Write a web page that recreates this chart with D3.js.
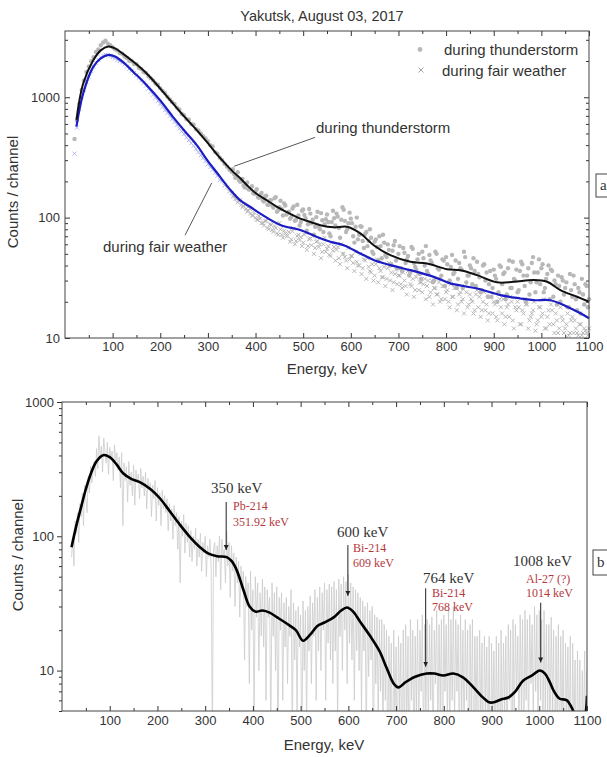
<!DOCTYPE html>
<html>
<head>
<meta charset="utf-8">
<script src="https://cdn.jsdelivr.net/npm/d3@7"></script>
<style>
  body { margin: 0; background: #fff; }
  svg { display: block; }
  text { font-family: Arial, "Liberation Sans", sans-serif; fill: #333; }
  .serif { font-family: "Times New Roman", "Liberation Serif", serif; }
</style>
</head>
<body>
<div id="chart"></div>
<script>
// Raw channels, every 5 keV from 20 to 1100 keV
var stormPoints = [
    450, 640, 880, 1150, 1380, 1620, 1800, 1990, 2150, 2380,
    2500, 2700, 2850, 2950, 2780, 2700, 2600, 2500, 2450, 2330,
    2300, 2180, 2120, 2010, 1990, 1890, 1880, 1760, 1720, 1620,
    1590, 1500, 1440, 1380, 1300, 1270, 1190, 1130, 1080, 1010,
    960, 910, 880, 820, 790, 730, 710, 660, 650, 600,
    590, 545, 530, 500, 475, 455, 430, 400, 390, 350,
    340, 315, 300, 280, 265, 250, 240, 230, 218, 205,
    200, 185, 190, 172, 176, 160, 165, 148, 155, 140,
    150, 128, 139, 126, 145, 112, 122, 118, 131, 106,
    112, 101, 124, 96, 104, 92, 117, 99, 88, 108,
    96, 84, 112, 80, 95, 88, 106, 74, 92, 99,
    108, 82, 96, 116, 76, 90, 98, 70, 84, 66,
    85, 64, 73, 58, 80, 52, 63, 57, 70, 46,
    62, 47, 54, 41, 59, 44, 50, 38, 56, 42,
    48, 35, 55, 39, 45, 34, 52, 40, 36, 49,
    42, 30, 50, 37, 33, 44, 47, 29, 39, 34,
    44, 31, 38, 26, 47, 33, 40, 28, 36, 43,
    32, 25, 41, 35, 28, 22, 37, 31, 24, 39,
    34, 21, 38, 26, 43, 30, 24, 36, 41, 27,
    33, 23, 42, 35, 29, 45, 38, 24, 31, 40,
    37, 22, 28, 33, 20, 30, 26, 18, 34, 22,
    28, 17, 24, 31, 19, 27, 21
];

var fairPoints = [
    340, 560, 800, 1000, 1150, 1330, 1480, 1650, 1800, 1930,
    2050, 2150, 2220, 2260, 2240, 2200, 2150, 2100, 2040, 1990,
    1940, 1870, 1800, 1720, 1660, 1590, 1520, 1450, 1380, 1320,
    1250, 1180, 1110, 1050, 990, 930, 880, 830, 780, 740,
    700, 660, 625, 590, 550, 520, 495, 465, 440, 415,
    395, 372, 350, 330, 312, 295, 278, 262, 250, 236,
    222, 205, 200, 185, 178, 165, 160, 150, 143, 138,
    128, 125, 118, 114, 108, 104, 100, 96, 98, 90,
    94, 82, 88, 79, 85, 74, 90, 72, 78, 70,
    76, 66, 81, 64, 72, 69, 62, 75, 58, 67,
    70, 56, 64, 60, 52, 68, 55, 49, 62, 57,
    54, 46, 60, 50, 44, 56, 48, 42, 52, 40,
    50, 38, 44, 46, 36, 41, 33, 45, 38, 32,
    39, 31, 42, 35, 29, 37, 33, 28, 35, 27,
    36, 28, 31, 25, 34, 29, 24, 31, 27, 22,
    30, 26, 23, 29, 21, 27, 24, 20, 28, 22,
    26, 19, 24, 21, 27, 18, 23, 20, 17, 25,
    22, 17, 24, 19, 16, 22, 20, 15, 23, 18,
    21, 15, 19, 22, 14, 18, 20, 13, 17, 21,
    19, 14, 16, 20, 13, 18, 15, 21, 12, 17,
    19, 13, 16, 11, 18, 14, 12, 16, 11, 15,
    14, 11, 13, 10.5, 12, 11, 12
];

// in-between channels, 352.5 to 1097.5 keV every 5 keV
var stormPointsMid = [
    252, 214, 238, 199, 210, 178, 196, 171, 182, 158,
    172, 146, 160, 136, 152, 128, 140, 121, 148, 115,
    138, 104, 126, 110, 98, 119, 94, 128, 86, 114,
    105, 78, 118, 90, 72, 101, 84, 109, 76, 97,
    92, 70, 114, 86, 102, 68, 122, 94, 80, 110,
    90, 62, 100, 72, 84, 56, 76, 64, 68, 50,
    66, 44, 58, 72, 49, 60, 40, 53, 64, 38,
    58, 36, 51, 45, 33, 57, 42, 37, 50, 31,
    46, 58, 34, 44, 29, 52, 38, 31, 45, 27,
    41, 30, 49, 35, 26, 42, 37, 52, 29, 33,
    38, 46, 27, 34, 24, 40, 30, 22, 36, 26,
    33, 20, 40, 28, 35, 23, 44, 26, 31, 37,
    25, 43, 33, 20, 38, 29, 47, 24, 35, 28,
    41, 26, 34, 21, 36, 30, 19, 27, 32, 23,
    29, 18, 25, 33, 21, 26, 16, 23, 28, 18
];

var fairPointsMid = [
    150, 144, 134, 140, 122, 128, 112, 119, 104, 110,
    96, 103, 90, 86, 94, 80, 87, 76, 82, 72,
    80, 68, 74, 71, 63, 77, 60, 70, 65, 58,
    72, 54, 66, 59, 50, 63, 57, 46, 60, 52,
    58, 48, 53, 44, 57, 41, 50, 47, 38, 45,
    48, 36, 43, 40, 34, 45, 31, 39, 35, 30,
    41, 29, 36, 32, 27, 38, 30, 25, 34, 28,
    33, 26, 30, 23, 35, 27, 22, 32, 25, 29,
    28, 21, 30, 24, 19, 26, 23, 20, 27, 21,
    25, 18, 22, 26, 17, 23, 20, 16, 24, 19,
    21, 16, 23, 18, 15, 20, 17, 14, 22, 16,
    19, 14, 21, 16, 13, 18, 15, 20, 12, 17,
    18, 13, 16, 19, 12, 15, 17, 11.5, 14, 18,
    16, 12, 15, 13, 17, 11, 14, 12, 15, 11,
    13, 10.5, 14, 11, 12, 10.5, 13, 11, 11.5, 10.5
];

// difference spectrum (panel b), every 2.5 keV from 20 to 1100 keV
var diffSpectrum = [
    70, 95, 60, 130, 105, 150, 90, 175, 140, 210, 120, 240, 190, 150, 280, 210, 330, 250, 300, 360,
    280, 450, 320, 560, 380, 470, 300, 540, 420, 350, 500, 290, 460, 380, 430, 260, 480, 350, 420, 310,
    390, 230, 420, 120, 350, 260, 330, 180, 360, 240, 300, 200, 340, 170, 310, 250, 290, 190, 320, 230,
    280, 200, 300, 160, 270, 220, 250, 140, 240, 190, 260, 130, 230, 170, 210, 120, 220, 160, 200, 150,
    190, 110, 175, 130, 160, 95, 170, 120, 150, 80, 140, 45, 130, 100, 145, 75, 125, 90, 120, 70,
    110, 65, 100, 80, 115, 60, 95, 70, 105, 55, 90, 75, 100, 50, 85, 70, 95, 60, 3, 80,
    90, 50, 85, 65, 100, 40, 95, 70, 80, 45, 110, 60, 90, 35, 85, 55, 75, 30, 70, 45,
    65, 25, 60, 40, 55, 12, 50, 30, 45, 8, 55, 20, 40, 4, 50, 25, 45, 10, 38, 18,
    48, 15, 42, 6, 40, 25, 35, 3, 45, 18, 38, 10, 42, 2, 35, 20, 38, 6, 32, 15,
    35, 8, 30, 18, 40, 3, 32, 12, 28, 5, 30, 15, 26, 2, 33, 10, 28, 4, 30, 14,
    36, 8, 32, 18, 40, 6, 35, 14, 42, 10, 38, 20, 45, 6, 40, 16, 44, 12, 42, 8,
    46, 14, 40, 4, 48, 18, 44, 10, 50, 20, 46, 8, 52, 16, 45, 12, 42, 6, 40, 14,
    38, 10, 35, 5, 33, 14, 30, 3, 32, 9, 28, 12, 30, 2, 26, 8, 25, 4, 24, 7,
    24, 3, 22, 6, 20, 2, 18, 5, 16, 1, 20, 4, 15, 2, 18, 5, 16, 1, 20, 3,
    22, 4, 18, 1, 24, 6, 20, 2, 18, 5, 24, 3, 20, 7, 26, 2, 22, 5, 24, 4,
    22, 6, 25, 2, 20, 8, 28, 3, 22, 5, 24, 2, 26, 7, 22, 4, 28, 3, 24, 6,
    30, 4, 24, 7, 22, 2, 26, 5, 20, 3, 24, 6, 20, 1, 22, 4, 24, 2, 18, 5,
    18, 2, 20, 4, 16, 1, 18, 5, 15, 2, 18, 1, 16, 4, 14, 2, 18, 3, 16, 1,
    20, 3, 16, 5, 18, 2, 22, 6, 20, 1, 24, 4, 22, 7, 18, 3, 26, 5, 24, 2,
    28, 6, 24, 3, 26, 8, 22, 4, 30, 7, 26, 3, 28, 6, 24, 2, 28, 5, 22, 4,
    22, 3, 25, 5, 20, 1, 18, 4, 22, 2, 18, 3, 20, 1, 16, 4, 15, 2, 18, 1,
    16, 3, 12, 1, 14, 2, 12, 1, 10, 3, 14, 2, 10
];

// Smoothed curves [energy keV, counts]
var stormCurve = [
    [24, 650], [38, 1294], [59, 2018], [75, 2450], [91, 2637], [105, 2550],
    [122, 2292], [145, 1950], [172, 1567], [200, 1180], [227, 884], [252, 680],
    [277, 531], [300, 415], [319, 335], [335, 285], [353, 240], [368, 212],
    [382, 186], [400, 160], [424, 139], [445, 123], [466, 111], [494, 98],
    [515, 92], [536, 86.5], [564, 83], [592, 84], [620, 74], [648, 59],
    [683, 48.8], [725, 43], [760, 41.6], [802, 37.3], [830, 36.6], [865, 33.3],
    [907, 29], [942, 29.3], [984, 30.3], [1012, 29.3], [1040, 25], [1075, 22],
    [1100, 20]
];

var fairCurve = [
    [24, 570], [38, 1069], [59, 1778], [75, 2100], [91, 2249], [105, 2180],
    [122, 1954], [145, 1600], [172, 1253], [200, 940], [227, 684], [252, 520],
    [277, 398], [300, 295], [319, 236], [347, 170], [368, 139], [390, 122],
    [410, 108], [452, 87], [494, 79], [529, 69], [557, 63], [585, 59],
    [620, 50.4], [648, 44.4], [683, 40.3], [725, 36.6], [774, 32.2], [809, 28.4],
    [865, 25.8], [914, 22.7], [956, 21.3], [984, 20.6], [1019, 20.6], [1054, 18.2],
    [1080, 16.2], [1100, 14.6]
];

var diffCurve = [
    [20, 83], [30, 120], [40, 165], [50, 225], [60, 290], [72, 360], [86, 402],
    [100, 388], [115, 340], [128, 295], [145, 268], [163, 253], [185, 225],
    [205, 192], [225, 155], [247, 122], [270, 97], [289, 83], [305, 75],
    [325, 71], [345, 70], [356, 65], [366, 56], [380, 40], [393, 30],
    [405, 27.5], [420, 28], [435, 27], [450, 25], [470, 22.5], [490, 20],
    [505, 16.7], [520, 18.5], [535, 21.5], [550, 22.8], [570, 25], [585, 28],
    [597, 29.5], [610, 27.5], [625, 23], [646, 18], [665, 14], [680, 10.5],
    [695, 8], [705, 7.5], [720, 8.2], [740, 9], [764, 9.5], [780, 9.5],
    [799, 9.2], [820, 9.5], [840, 8.9], [862, 7.5], [880, 6.4], [895, 5.8],
    [905, 5.8], [920, 6.1], [935, 6.3], [950, 7], [966, 8.4], [985, 9.2],
    [1001, 10], [1012, 9.5], [1022, 8.2], [1030, 7.1], [1042, 6.2], [1058, 6.0],
    [1068, 5.3], [1080, 4.3], [1092, 4.3], [1100, 6.5]
];

var xMajor = [100, 200, 300, 400, 500, 600, 700, 800, 900, 1000, 1100];
var xMinor = [50, 150, 250, 350, 450, 550, 650, 750, 850, 950, 1050];

// Peak annotations of panel b
var peakLabels = ['350 keV', '600 keV', '764 keV', '1008 keV'];
var isotopeNames = ['Pb-214', 'Bi-214', 'Bi-214', 'Al-27 (?)'];
var isotopeLines = ['351.92 keV', '609 keV', '768 keV', '1014 keV'];
var arrowEnergy = [344, 599, 762, 1003];
var arrowFrom = [180, 86, 41, 32];
var arrowTo = [79, 36, 10.7, 11.5];

// pixel layout of the annotation texts
var annotLayout = [
    {lx: 211, ly: 493, ix: 233, iy: 510, iy2: 526},
    {lx: 337, ly: 537, ix: 353, iy: 552, iy2: 567},
    {lx: 423, ly: 583, ix: 432, iy: 597, iy2: 611},
    {lx: 513, ly: 566, ix: 526, iy: 583, iy2: 597}
];

var energies = d3.range(20, 1101, 5);
var energiesMid = d3.range(352.5, 1100, 5);
var energiesFine = d3.range(20, 1101, 2.5);

function isDecade(d) {
    var l = Math.log10(d);
    return Math.abs(l - Math.round(l)) < 1e-6;
}

var svg = d3.select('#chart').append('svg')
    .attr('width', 607)
    .attr('height', 757);

var defs = svg.append('defs');
defs.append('marker')
    .attr('id', 'arrow')
    .attr('markerUnits', 'userSpaceOnUse')
    .attr('markerWidth', 6).attr('markerHeight', 6)
    .attr('refX', 5).attr('refY', 3)
    .attr('orient', 'auto')
    .append('path')
    .attr('d', 'M0,0.5 L5,3 L0,5.5 Z')
    .attr('fill', '#222');

function styleAxis(sel, size) {
    sel.attr('font-family', 'Arial, "Liberation Sans", sans-serif')
        .attr('font-size', size);
    sel.select('.domain').remove();
    sel.selectAll('line').attr('stroke', '#333');
    sel.selectAll('text').attr('fill', '#333');
}

/* ---------------- panel a ---------------- */
var xA = d3.scaleLinear().domain([0, 1100]).range([65, 589]);
var yA = d3.scaleLog().domain([10, 3550]).range([338, 31]);

var gA = svg.append('g').attr('id', 'panel-a');

svg.append('text')
    .attr('x', 322).attr('y', 21)
    .attr('text-anchor', 'middle')
    .attr('font-size', 14.5)
    .text('Yakutsk, August 03, 2017');

function drawCrosses(g, values, xs) {
    g.selectAll(null)
        .data(values).enter()
        .append('path')
        .attr('transform', (d, i) => 'translate(' + xA(xs[i]) + ',' + yA(d) + ')')
        .attr('d', 'M-2,-2L2,2M-2,2L2,-2')
        .attr('stroke', (d, i) => xs[i] <= 330 ? '#a9b1e8' : '#b0b0b0')
        .attr('stroke-width', 0.9)
        .attr('fill', 'none');
}

function drawDots(g, values, xs) {
    g.selectAll(null)
        .data(values).enter()
        .append('circle')
        .attr('cx', (d, i) => xA(xs[i]))
        .attr('cy', d => yA(d))
        .attr('r', 2.2)
        .attr('fill', '#b8b8b8');
}

// fair weather crosses, then thunderstorm dots
drawCrosses(gA, fairPoints, energies);
drawCrosses(gA, fairPointsMid, energiesMid);
drawDots(gA, stormPoints, energies);
drawDots(gA, stormPointsMid, energiesMid);

var lineA = d3.line()
    .x(d => xA(d[0]))
    .y(d => yA(d[1]))
    .curve(d3.curveCatmullRom.alpha(0.5));

gA.append('path')
    .datum(fairCurve)
    .attr('fill', 'none')
    .attr('stroke', '#1c1cc4')
    .attr('stroke-width', 2.2)
    .attr('d', lineA);

gA.append('path')
    .datum(stormCurve)
    .attr('fill', 'none')
    .attr('stroke', '#111')
    .attr('stroke-width', 2)
    .attr('d', lineA);

// axes
gA.append('g').attr('transform', 'translate(0,338)')
    .call(d3.axisBottom(xA).tickValues(xMajor).tickSize(-5).tickPadding(4).tickFormat(d3.format('d')))
    .call(styleAxis, 13);
gA.append('g').attr('transform', 'translate(0,338)')
    .call(d3.axisBottom(xA).tickValues(xMinor).tickSize(-3).tickFormat(''))
    .call(styleAxis, 13);
gA.append('g').attr('transform', 'translate(0,31)')
    .call(d3.axisTop(xA).tickValues(xMajor).tickSize(-5).tickFormat(''))
    .call(styleAxis, 13);
gA.append('g').attr('transform', 'translate(0,31)')
    .call(d3.axisTop(xA).tickValues(xMinor).tickSize(-3).tickFormat(''))
    .call(styleAxis, 13);

var yTicksA = yA.ticks();
gA.append('g').attr('transform', 'translate(65,0)')
    .call(d3.axisLeft(yA).tickValues(yTicksA.filter(isDecade)).tickSize(-5).tickPadding(5).tickFormat(d3.format('d')))
    .call(styleAxis, 13);
gA.append('g').attr('transform', 'translate(65,0)')
    .call(d3.axisLeft(yA).tickValues(yTicksA.filter(d => !isDecade(d))).tickSize(-3).tickFormat(''))
    .call(styleAxis, 13);
gA.append('g').attr('transform', 'translate(589,0)')
    .call(d3.axisRight(yA).tickValues(yTicksA.filter(isDecade)).tickSize(-5).tickFormat(''))
    .call(styleAxis, 13);
gA.append('g').attr('transform', 'translate(589,0)')
    .call(d3.axisRight(yA).tickValues(yTicksA.filter(d => !isDecade(d))).tickSize(-3).tickFormat(''))
    .call(styleAxis, 13);

gA.append('rect')
    .attr('x', 65).attr('y', 31)
    .attr('width', 589 - 65).attr('height', 338 - 31)
    .attr('fill', 'none')
    .attr('stroke', '#444');

gA.append('text')
    .attr('x', 327).attr('y', 374)
    .attr('text-anchor', 'middle')
    .attr('font-size', 15)
    .text('Energy, keV');

gA.append('text')
    .attr('transform', 'translate(18,192) rotate(-90)')
    .attr('text-anchor', 'middle')
    .attr('font-size', 15)
    .text('Counts / channel');

// legend
gA.append('circle')
    .attr('cx', 420).attr('cy', 49.5).attr('r', 2.4)
    .attr('fill', '#b8b8b8');
gA.append('text')
    .attr('x', 444).attr('y', 55)
    .attr('font-size', 15)
    .text('during thunderstorm');
gA.append('path')
    .attr('transform', 'translate(421,70)')
    .attr('d', 'M-2.5,-2.5L2.5,2.5M-2.5,2.5L2.5,-2.5')
    .attr('stroke', '#999').attr('stroke-width', 0.9);
gA.append('text')
    .attr('x', 442).attr('y', 75.5)
    .attr('font-size', 15)
    .text('during fair weather');

// leader lines
gA.append('line')
    .attr('x1', xA(355)).attr('y1', yA(267))
    .attr('x2', xA(525)).attr('y2', yA(464))
    .attr('stroke', '#444').attr('stroke-width', 0.9);
gA.append('text')
    .attr('x', 316).attr('y', 133)
    .attr('font-size', 15)
    .text('during thunderstorm');
gA.append('line')
    .attr('x1', xA(252)).attr('y1', yA(71.5))
    .attr('x2', xA(308)).attr('y2', yA(194))
    .attr('stroke', '#444').attr('stroke-width', 0.9);
gA.append('text')
    .attr('x', 103).attr('y', 252)
    .attr('font-size', 15)
    .text('during fair weather');

// panel letter
gA.append('rect')
    .attr('x', 596).attr('y', 174).attr('width', 30).attr('height', 23)
    .attr('fill', '#fff').attr('stroke', '#444');
gA.append('text')
    .attr('class', 'serif')
    .attr('x', 600).attr('y', 190)
    .attr('font-size', 15)
    .text('a');

/* ---------------- panel b ---------------- */
var xB = d3.scaleLinear().domain([0, 1100]).range([62, 587]);
var yB = d3.scaleLog().domain([5, 1000]).range([711, 402]);

var gB = svg.append('g').attr('id', 'panel-b');

defs.append('clipPath').attr('id', 'clip-b')
    .append('rect')
    .attr('x', 62).attr('y', 402)
    .attr('width', 587 - 62).attr('height', 711 - 402);

var plotB = gB.append('g').attr('clip-path', 'url(#clip-b)');

var spectrumLine = d3.line()
    .x((d, i) => xB(energiesFine[i]))
    .y(d => yB(d));

plotB.append('path')
    .datum(diffSpectrum)
    .attr('fill', 'none')
    .attr('stroke', '#cccccc')
    .attr('stroke-width', 0.8)
    .attr('d', spectrumLine);

var lineB = d3.line()
    .x(d => xB(d[0]))
    .y(d => yB(d[1]))
    .curve(d3.curveCatmullRom.alpha(0.5));

plotB.append('path')
    .datum(diffCurve)
    .attr('fill', 'none')
    .attr('stroke', '#000')
    .attr('stroke-width', 2.6)
    .attr('d', lineB);

gB.append('g').attr('transform', 'translate(0,711)')
    .call(d3.axisBottom(xB).tickValues(xMajor).tickSize(-5).tickPadding(5).tickFormat(d3.format('d')))
    .call(styleAxis, 13);
gB.append('g').attr('transform', 'translate(0,711)')
    .call(d3.axisBottom(xB).tickValues(xMinor).tickSize(-3).tickFormat(''))
    .call(styleAxis, 13);
gB.append('g').attr('transform', 'translate(0,402)')
    .call(d3.axisTop(xB).tickValues(xMajor).tickSize(-5).tickFormat(''))
    .call(styleAxis, 13);
gB.append('g').attr('transform', 'translate(0,402)')
    .call(d3.axisTop(xB).tickValues(xMinor).tickSize(-3).tickFormat(''))
    .call(styleAxis, 13);

var yTicksB = yB.ticks();
gB.append('g').attr('transform', 'translate(62,0)')
    .call(d3.axisLeft(yB).tickValues(yTicksB.filter(isDecade)).tickSize(5).tickPadding(3).tickFormat(d3.format('d')))
    .call(styleAxis, 13);
gB.append('g').attr('transform', 'translate(62,0)')
    .call(d3.axisLeft(yB).tickValues(yTicksB.filter(d => !isDecade(d))).tickSize(3).tickFormat(''))
    .call(styleAxis, 13);

gB.append('rect')
    .attr('x', 62).attr('y', 402)
    .attr('width', 587 - 62).attr('height', 711 - 402)
    .attr('fill', 'none')
    .attr('stroke', '#444');

gB.append('text')
    .attr('x', 324).attr('y', 750)
    .attr('text-anchor', 'middle')
    .attr('font-size', 15)
    .text('Energy, keV');

gB.append('text')
    .attr('transform', 'translate(23,555) rotate(-90)')
    .attr('text-anchor', 'middle')
    .attr('font-size', 15)
    .text('Counts / channel');

// peak annotations
arrowEnergy.forEach((e, i) => {
    var lay = annotLayout[i];
    gB.append('line')
        .attr('x1', xB(e)).attr('y1', yB(arrowFrom[i]))
        .attr('x2', xB(e)).attr('y2', yB(arrowTo[i]))
        .attr('stroke', '#222').attr('stroke-width', 1)
        .attr('marker-end', 'url(#arrow)');
    gB.append('text')
        .attr('class', 'serif')
        .attr('x', lay.lx).attr('y', lay.ly)
        .attr('font-size', 15)
        .attr('fill', '#222')
        .text(peakLabels[i]);
    gB.append('text')
        .attr('class', 'serif')
        .attr('x', lay.ix).attr('y', lay.iy)
        .attr('font-size', 12)
        .style('fill', '#b5383c')
        .text(isotopeNames[i]);
    gB.append('text')
        .attr('class', 'serif')
        .attr('x', lay.ix).attr('y', lay.iy2)
        .attr('font-size', 12)
        .style('fill', '#b5383c')
        .text(isotopeLines[i]);
});

gB.append('rect')
    .attr('x', 593).attr('y', 550).attr('width', 30).attr('height', 25)
    .attr('fill', '#fff').attr('stroke', '#444');
gB.append('text')
    .attr('class', 'serif')
    .attr('x', 597).attr('y', 567)
    .attr('font-size', 15)
    .text('b');
</script>
</body>
</html>
